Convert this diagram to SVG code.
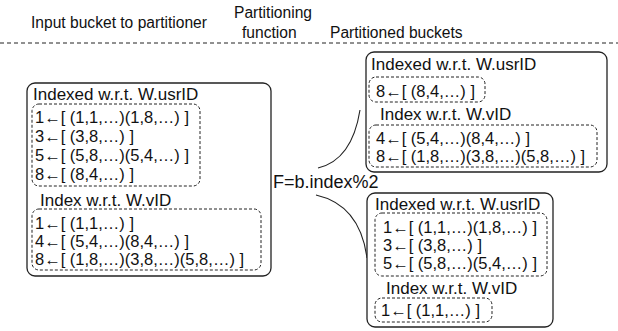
<svg xmlns="http://www.w3.org/2000/svg" width="618" height="331" viewBox="0 0 618 331">
<defs>
<style>
text{font-family:"Liberation Sans",Arial,Helvetica,sans-serif;fill:#111;}
.h{font-size:15.6px;}
.t{font-size:17px;}
.i{font-size:16.5px;}
.f{font-size:18px;}
.box{fill:#fff;stroke:#222;stroke-width:1.3;}
.dbox{fill:none;stroke:#222;stroke-width:1;stroke-dasharray:3,2;}
.conn{fill:none;stroke:#222;stroke-width:1.1;}
</style>
</defs>
<rect width="618" height="331" fill="#fff"/>
<g id="header">
<text class="h" x="31" y="28">Input bucket to partitioner</text>
<text class="h" x="234" y="18">Partitioning</text>
<text class="h" x="242" y="38">function</text>
<text class="h" x="330" y="38">Partitioned buckets</text>
<line x1="0" y1="43" x2="618" y2="43" stroke="#222" stroke-width="1" stroke-dasharray="4,3"/>
</g>
<g id="connectors">
<path class="conn" d="M318,168 Q352,160 360,110"/>
<path class="conn" d="M316,195 Q360,205 367,258"/>
</g>
<g id="input-bucket">
<rect class="box" x="27" y="83" width="244" height="193" rx="8"/>
<text class="t" x="33" y="100">Indexed w.r.t. W.usrID</text>
<rect class="dbox" x="32" y="104" width="168" height="82" rx="7"/>
<text class="i" x="35" y="123">1←[ (1,1,…)(1,8,…) ]</text>
<text class="i" x="35" y="142">3←[ (3,8,…) ]</text>
<text class="i" x="35" y="161">5←[ (5,8,…)(5,4,…) ]</text>
<text class="i" x="35" y="180">8←[ (8,4,…) ]</text>
<text class="t" x="40" y="206">Index w.r.t. W.vID</text>
<rect class="dbox" x="32" y="209" width="229" height="61" rx="7"/>
<text class="i" x="35" y="229">1←[ (1,1,…) ]</text>
<text class="i" x="35" y="247">4←[ (5,4,…)(8,4,…) ]</text>
<text class="i" x="35" y="265">8←[ (1,8,…)(3,8,…)(5,8,…) ]</text>
</g>
<g id="bucket-top">
<rect class="box" x="366" y="52" width="241" height="120" rx="8"/>
<text class="t" x="371" y="70">Indexed w.r.t. W.usrID</text>
<rect class="dbox" x="369" y="77" width="116" height="25" rx="7"/>
<text class="i" x="376" y="97">8←[ (8,4,…) ]</text>
<text class="t" x="380" y="120">Index w.r.t. W.vID</text>
<rect class="dbox" x="369" y="125" width="228" height="42" rx="7"/>
<text class="i" x="376" y="144">4←[ (5,4,…)(8,4,…) ]</text>
<text class="i" x="376" y="162">8←[ (1,8,…)(3,8,…)(5,8,…) ]</text>
</g>
<g id="bucket-bottom">
<rect class="box" x="367" y="193" width="186" height="134" rx="8"/>
<text class="t" x="375" y="210">Indexed w.r.t. W.usrID</text>
<rect class="dbox" x="375" y="213" width="172" height="63" rx="7"/>
<text class="i" x="383" y="233">1←[ (1,1,…)(1,8,…) ]</text>
<text class="i" x="383" y="251">3←[ (3,8,…) ]</text>
<text class="i" x="383" y="269">5←[ (5,8,…)(5,4,…) ]</text>
<text class="t" x="386" y="294">Index w.r.t. W.vID</text>
<rect class="dbox" x="375" y="298" width="117" height="24" rx="7"/>
<text class="i" x="381" y="316">1←[ (1,1,…) ]</text>
</g>
<g id="function">
<text class="f" x="273" y="188">F=b.index%2</text>
</g>
</svg>
